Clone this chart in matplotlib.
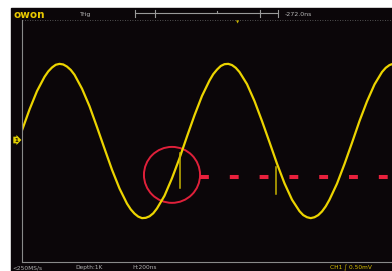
import matplotlib
matplotlib.use("Agg")
import matplotlib.pyplot as plt
from matplotlib.patches import Ellipse, Rectangle

# === Waveform (time in divisions, volts in divisions) ===
t_div = [0.0, 0.25, 0.5, 0.75, 0.875, 1.0, 1.125, 1.25, 1.375, 1.5, 1.625, 1.75,
         2.0, 2.25, 2.5, 2.75, 3.0, 3.25, 3.5, 3.625, 3.75, 3.875, 4.0, 4.125,
         4.25, 4.375, 4.5, 4.75, 5.0, 5.25, 5.5, 5.75, 6.0, 6.25, 6.375, 6.5,
         6.625, 6.75, 6.875, 7.0, 7.125, 7.25, 7.5, 7.75, 8.0, 8.25, 8.5, 8.75,
         9.0, 9.25, 9.375, 9.5, 9.625, 9.75, 9.875, 10.0, 10.125, 10.25, 10.5,
         10.75, 11.0, 11.25, 11.5, 11.75, 12.0, 12.125, 12.25, 12.33]
v_div = [0.35, 1.04, 1.65, 2.12, 2.30, 2.43, 2.52, 2.55, 2.53, 2.46, 2.35, 2.19,
         1.73, 1.15, 0.46, -0.25, -0.95, -1.57, -2.07, -2.26, -2.40, -2.50, -2.55, -2.54,
         -2.49, -2.39, -2.23, -1.81, -1.23, -0.57, 0.15, 0.85, 1.49, 2.00, 2.21, 2.36,
         2.48, 2.54, 2.55, 2.51, 2.42, 2.28, 1.88, 1.32, 0.66, -0.04, -0.75, -1.40,
         -1.94, -2.32, -2.45, -2.52, -2.55, -2.52, -2.45, -2.33, -2.16, -1.94, -1.41,
         -0.76, -0.06, 0.66, 1.31, 1.87, 2.28, 2.42, 2.51, 2.54]

# trigger level (red dashes) and the two trigger markers
trig_level = -1.19
trig_start = 5.93
marker_t = [5.27, 8.47]
marker_top = [-0.40, -0.86]
marker_bot = [-1.55, -1.75]

# red circle around the first crossing
circle_t, circle_v = 5.0, -1.12
circle_w, circle_h = 1.87, 1.85

# === Status texts ===
top_texts = ["Trig", "-272.0ns"]
bottom_texts = ["<250MS/s", "Depth:1K", "H:200ns"]
channel_text = "CH1 \u222b 0.50mV"

W, H = 392, 271
fig = plt.figure(figsize=(W / 100, H / 100), dpi=100, facecolor="white")

# === Screen frame in pixel coordinates ===
bg = fig.add_axes([0, 0, 1, 1])
bg.set_xlim(0, W)
bg.set_ylim(H, 0)
bg.axis("off")
bg.add_patch(Rectangle((11, 8), W - 11, H - 8, color="#0b0609", zorder=0))

bg.text(14, 14.5, "owon", color="#e8c800", fontsize=7.5, fontweight="bold",
        va="center", ha="left")
bg.text(80, 14.5, top_texts[0], color="#b8b8b8", fontsize=4.5, va="center")
bg.plot([135, 278], [13, 13], color="#9a9a9a", lw=0.8)
for xb in [135, 155, 260, 278]:
    bg.plot([xb, xb], [10, 17], color="#9a9a9a", lw=0.8)
bg.plot([217, 217], [11, 13], color="#9a9a9a", lw=0.8)
bg.text(285, 14.5, top_texts[1], color="#b8b8b8", fontsize=4.5, va="center")
bg.plot([22, W], [20, 20], color="#6a6a6a", lw=0.6, ls=(0, (1, 2)))
bg.text(238, 22, "\u25bc", color="#c8b400", fontsize=3, ha="center", va="center")

bg.text(12, 267.5, bottom_texts[0], color="#b0b0b0", fontsize=4.2, va="center")
bg.text(75, 267.5, bottom_texts[1], color="#b0b0b0", fontsize=4.2, va="center")
bg.text(132, 267.5, bottom_texts[2], color="#b0b0b0", fontsize=4.2, va="center")
bg.text(330, 267.5, channel_text, color="#d8c000", fontsize=4.2, va="center")

bg.text(16, 140, "1", color="#1a1200", fontsize=4, ha="center", va="center",
        fontweight="bold",
        bbox=dict(boxstyle="rarrow,pad=0.15", fc="#e0d000", ec="none"))

# === Waveform area ===
ax = fig.add_axes([22 / W, 9 / H, 370 / W, 242 / H])
ax.set_facecolor("none")
ax.set_xlim(0, 370 / 30)
ax.set_ylim(-4, 4)
ax.set_xticks([])
ax.set_yticks([])
for side in ["top", "right"]:
    ax.spines[side].set_visible(False)
for side in ["left", "bottom"]:
    ax.spines[side].set_color("#8a8a8a")
    ax.spines[side].set_linewidth(0.8)

ax.plot(t_div, v_div, color="#ecd400", lw=1.6, solid_capstyle="round",
        solid_joinstyle="round")

ax.plot([trig_start, 370 / 30], [trig_level, trig_level], color="#e8203c",
        lw=2.9, dashes=(2.2, 5.2), solid_capstyle="butt", dash_capstyle="butt")

for t, a, b in zip(marker_t, marker_top, marker_bot):
    ax.plot([t, t], [a, b], color="#c8b400", lw=1.1)

ax.add_patch(Ellipse((circle_t, circle_v), circle_w, circle_h, fill=False,
                     ec="#e0203a", lw=1.4))

fig.savefig("out.png", dpi=100, facecolor="white")
